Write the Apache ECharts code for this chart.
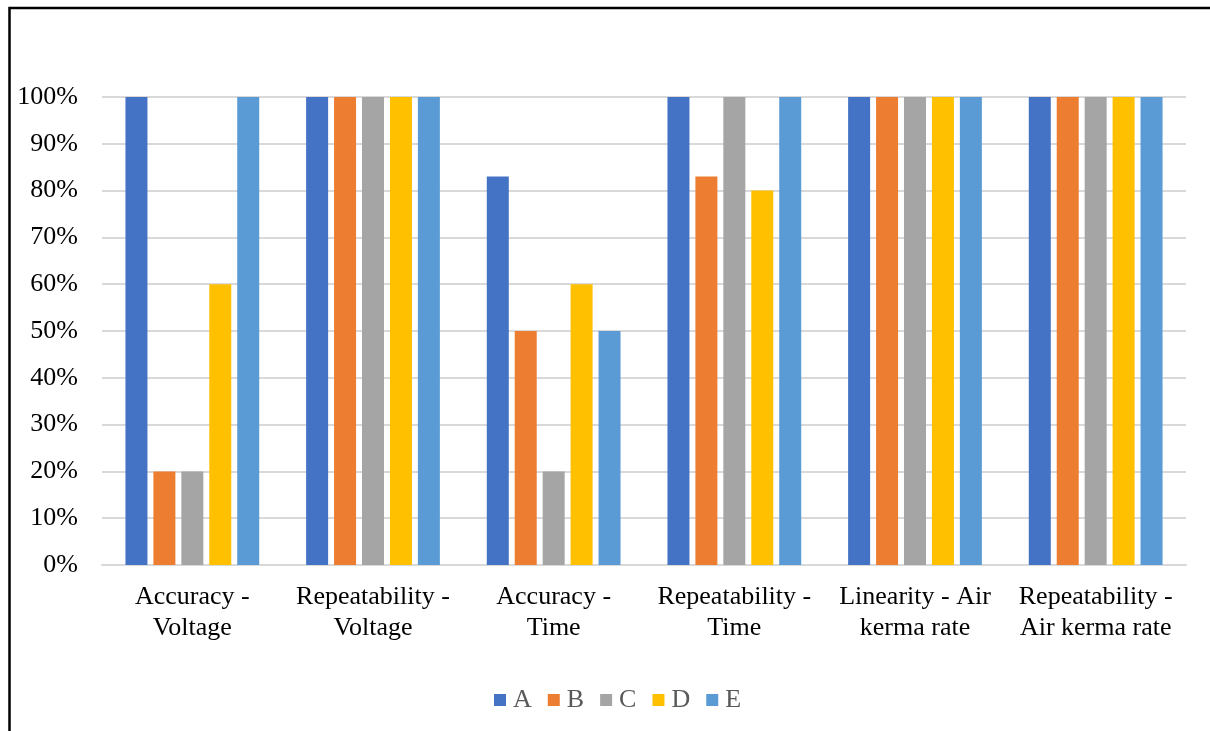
<!DOCTYPE html>
<html>
<head>
<meta charset="utf-8">
<script src="https://cdn.jsdelivr.net/npm/echarts@6/dist/echarts.min.js"></script>
<style>
  html, body { margin: 0; padding: 0; background: #fff; }
  #chart { width: 1210px; height: 731px; }
</style>
</head>
<body>
<div id="chart"></div>
<script>
// Test categories (x axis)
const categories = [
  'Accuracy -\nVoltage',
  'Repeatability -\nVoltage',
  'Accuracy -\nTime',
  'Repeatability -\nTime',
  'Linearity - Air\nkerma rate',
  'Repeatability -\nAir kerma rate'
];

// Pass rate (%) for each unit
const seriesNames = ['A', 'B', 'C', 'D', 'E'];
const valuesA = [100, 100, 83, 100, 100, 100];
const valuesB = [20, 100, 50, 83, 100, 100];
const valuesC = [20, 100, 20, 100, 100, 100];
const valuesD = [60, 100, 60, 80, 100, 100];
const valuesE = [100, 100, 50, 100, 100, 100];
const seriesValues = [valuesA, valuesB, valuesC, valuesD, valuesE];
const seriesColors = ['#4472C4', '#ED7D31', '#A5A5A5', '#FFC000', '#5B9BD5'];

// Y axis ticks
const yMin = 0, yMax = 100, yStep = 10;

const font = '"Liberation Serif", "Times New Roman", serif';
const chart = echarts.init(document.getElementById('chart'));

chart.setOption({
  animation: false,
  textStyle: { fontFamily: font },
  grid: { left: 102, right: 24, top: 97, bottom: 166, containLabel: false },
  legend: {
    data: seriesNames,
    top: 682,
    left: 489,
    padding: 5,
    itemWidth: 12,
    itemHeight: 12,
    itemGap: 16,
    icon: 'rect',
    textStyle: { fontFamily: font, fontSize: 26, color: '#595959', padding: [0, 0, 0, 2] }
  },
  xAxis: {
    type: 'category',
    data: categories,
    axisLine: { lineStyle: { color: '#d9d9d9', width: 2 } },
    axisTick: { show: false },
    axisLabel: {
      interval: 0,
      margin: 17,
      fontFamily: font,
      fontSize: 26,
      lineHeight: 31,
      color: '#000'
    }
  },
  yAxis: {
    type: 'value',
    min: yMin,
    max: yMax,
    interval: yStep,
    axisLine: { show: false },
    axisTick: { show: false },
    splitLine: { lineStyle: { color: '#d9d9d9', width: 2 } },
    axisLabel: {
      margin: 24,
      fontFamily: font,
      fontSize: 26,
      color: '#000',
      formatter: v => v + '%'
    }
  },
  series: seriesNames.map((name, i) => ({
    name,
    type: 'bar',
    data: seriesValues[i],
    barWidth: 22,
    barGap: '27%',
    itemStyle: { color: seriesColors[i] }
  })),
  graphic: [
    {
      type: 'polyline',
      silent: true,
      shape: { points: [[9.5, 731], [9.5, 8], [1210, 8]] },
      style: { stroke: '#000', lineWidth: 2.5, fill: null }
    }
  ]
});
</script>
</body>
</html>
